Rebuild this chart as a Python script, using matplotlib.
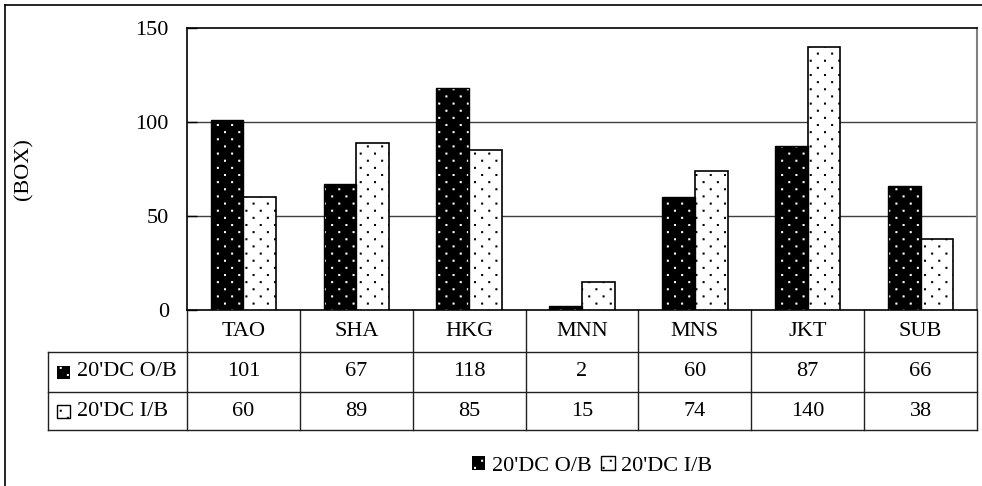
import matplotlib
matplotlib.use("Agg")
import numpy as np
import matplotlib.pyplot as plt
import matplotlib.hatch as mhatch
from matplotlib.path import Path
from matplotlib.patches import Rectangle, Patch
from matplotlib.lines import Line2D
import matplotlib.transforms as mtransforms

categories = ["TAO", "SHA", "HKG", "MNN", "MNS", "JKT", "SUB"]
series_names = ["20'DC O/B", "20'DC I/B"]
ob_values = [101, 67, 118, 2, 60, 87, 66]
ib_values = [60, 89, 85, 15, 74, 140, 38]
y_ticks = [0, 50, 100, 150]
y_label = "(BOX)"


# sparse staggered dot hatch (like the Office "dotted" fill)
class SparseDots(mhatch.HatchPatternBase):
    def __init__(self, hatch, density):
        n = hatch.count('.')
        self.nc = 7 * n
        self.nr = 14 * n
        self.num_vertices = self.nc * self.nr * 5 if n else 0

    def set_vertices_and_codes(self, vertices, codes):
        s = 0.006
        sq = np.array([[-s, -s], [s, -s], [s, s], [-s, s], [-s, -s]])
        sc = np.array([Path.MOVETO, Path.LINETO, Path.LINETO, Path.LINETO, Path.CLOSEPOLY],
                      dtype=Path.code_type)
        vparts, cparts = [], []
        for i in range(self.nr):
            for j in range(self.nc):
                cx = (j + 0.25 + 0.5 * (i % 2)) / self.nc
                cy = (i + 0.5) / self.nr
                vparts.append(sq + [cx, cy])
                cparts.append(sc)
        np.concatenate(vparts, out=vertices)
        np.concatenate(cparts, out=codes)


mhatch._hatch_types = [t for t in mhatch._hatch_types
                       if t is not mhatch.SmallFilledCircles] + [SparseDots]

plt.rcParams['font.family'] = ['Liberation Serif', 'DejaVu Serif']
plt.rcParams['hatch.linewidth'] = 0.6
FS = 16

W, H = 982, 486
fig = plt.figure(figsize=(W / 100, H / 100), dpi=100)
ax = fig.add_axes([187 / W, 1 - 310 / H, (977 - 187) / W, (310 - 28) / H])

n = len(categories)
x = list(range(n))
bw = 0.29
xo = [i - bw / 2 for i in x]
xi = [i + bw / 2 for i in x]

hatch = '.'
ax.bar(xo, ob_values, width=bw, color='black', edgecolor='white', linewidth=0, hatch=hatch, zorder=3)
ax.bar(xo, ob_values, width=bw, fill=False, edgecolor='black', linewidth=1, zorder=4)
ax.bar(xi, ib_values, width=bw, color='white', edgecolor='black', linewidth=0, hatch=hatch, zorder=3)
ax.bar(xi, ib_values, width=bw, fill=False, edgecolor='black', linewidth=1.2, zorder=4)

ax.set_xlim(-0.5, n - 0.5)
ax.set_ylim(0, 150)
ax.set_yticks(y_ticks)
ax.set_yticklabels([str(v) for v in y_ticks], fontsize=FS)
ax.tick_params(axis='y', length=7, direction='in', pad=13, width=1)
ax.set_xticks([])
for v in y_ticks[1:-1]:
    ax.axhline(v, color='#404040', linewidth=1, zorder=1)
for s in ['top', 'left', 'bottom']:
    ax.spines[s].set_linewidth(1.2)
    ax.spines[s].set_color('black')
ax.spines['right'].set_color('#808080')
ax.spines['right'].set_linewidth(1.5)

fig.text(24 / W, 1 - 169 / H, y_label, rotation=90, fontsize=FS, ha='center', va='center')

# data table below axes (x in data coords, y in axes coords)
tr = mtransforms.blended_transform_factory(ax.transData, ax.transAxes)
ax_h = 310 - 28
ax_w = 977 - 187


def yax(py):
    return (310 - py) / ax_h


def xax(px):
    return (px - 187) / ax_w


row_lines = [352, 392, 430]
x_left_ax = xax(48)
for py in row_lines:
    ax.plot([x_left_ax, 1], [yax(py), yax(py)], transform=ax.transAxes, color='#202020',
            linewidth=1, clip_on=False)
for i in range(n + 1):
    ax.plot([i - 0.5, i - 0.5], [0, yax(430)], transform=tr, color='#202020', linewidth=1,
            clip_on=False)
ax.plot([x_left_ax, x_left_ax], [yax(352), yax(430)], transform=ax.transAxes, color='#202020',
        linewidth=1, clip_on=False)

hdr_y = yax(331)
r1_y = yax(372)
r2_y = yax(411)
for i, c in enumerate(categories):
    ax.text(i, hdr_y, c, transform=tr, ha='center', va='center', fontsize=FS)
    ax.text(i, r1_y, str(ob_values[i]), transform=tr, ha='center', va='center', fontsize=FS)
    ax.text(i, r2_y, str(ib_values[i]), transform=tr, ha='center', va='center', fontsize=FS)


# row labels with legend keys
def key(px, py, dark):
    size = 13
    x0 = xax(px)
    y0 = yax(py + size / 2)
    w = size / ax_w
    h = size / ax_h
    if dark:
        r = Rectangle((x0, y0), w, h, transform=ax.transAxes, facecolor='black',
                      edgecolor='white', linewidth=0, hatch='.', clip_on=False)
    else:
        r = Rectangle((x0, y0), w, h, transform=ax.transAxes, facecolor='white',
                      edgecolor='black', linewidth=1, hatch='.', clip_on=False)
    ax.add_patch(r)


key(57, 372, True)
key(57, 412, False)
ax.text(xax(77), r1_y, series_names[0], transform=ax.transAxes,
        ha='left', va='center', fontsize=FS)
ax.text(xax(77), r2_y, series_names[1], transform=ax.transAxes,
        ha='left', va='center', fontsize=FS)

# bottom legend
h1 = Patch(facecolor='black', edgecolor='white', linewidth=0, hatch='.')
h2 = Patch(facecolor='white', edgecolor='black', linewidth=1, hatch='.')
fig.legend([h1, h2], series_names, loc='center', bbox_to_anchor=(592 / W, 1 - 466 / H),
           ncol=2, frameon=False, fontsize=FS, handlelength=0.6, handleheight=0.6,
           handletextpad=0.3, columnspacing=0.45, borderpad=0)

# outer frame (top and left edges)
fig.add_artist(Line2D([5 / W, 1.0], [1 - 5 / H, 1 - 5 / H], transform=fig.transFigure,
                      color='black', linewidth=1.2))
fig.add_artist(Line2D([5 / W, 5 / W], [0, 1 - 5 / H], transform=fig.transFigure,
                      color='black', linewidth=1.2))

fig.savefig("out.png", dpi=100)
